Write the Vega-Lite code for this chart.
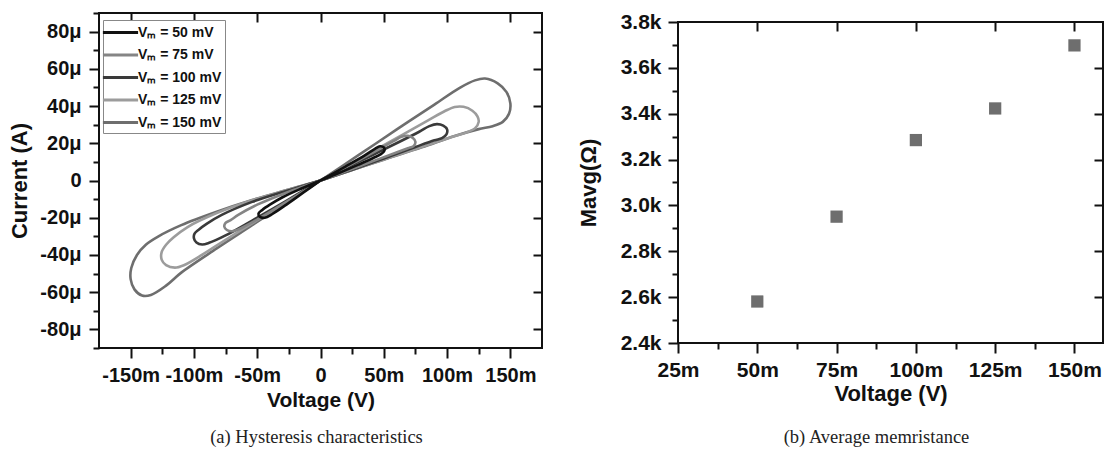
{
  "$schema": "https://vega.github.io/schema/vega-lite/v6.json",
  "padding": {"left": 7, "top": 10, "right": 4, "bottom": 4},
  "spacing": 32,
  "config": {
    "view": {"stroke": "#111111", "strokeWidth": 2},
    "font": "Liberation Sans",
    "axis": {
      "labelFont": "Liberation Sans", "labelFontWeight": "bold", "labelColor": "#111111",
      "titleFont": "Liberation Sans", "titleFontWeight": "bold", "titleColor": "#111111",
      "tickColor": "#111111", "tickWidth": 2, "grid": false, "domain": false,
      "labelOverlap": false, "labelFlush": false
    }
  },
  "datasets": {
    "loops": [
      {"vm":"150","i":0,"v":0,"c":0},{"vm":"150","i":1,"v":30,"c":13.6},{"vm":"150","i":2,"v":60,"c":27.3},{"vm":"150","i":3,"v":90,"c":40.8},{"vm":"150","i":4,"v":110,"c":49.8},{"vm":"150","i":5,"v":122,"c":53.8},{"vm":"150","i":6,"v":130,"c":54.8},{"vm":"150","i":7,"v":140,"c":52.2},{"vm":"150","i":8,"v":147,"c":47.5},{"vm":"150","i":9,"v":150,"c":41.5},{"vm":"150","i":10,"v":149,"c":36},{"vm":"150","i":11,"v":144,"c":31.5},{"vm":"150","i":12,"v":136,"c":29.2},{"vm":"150","i":13,"v":125,"c":27.6},{"vm":"150","i":14,"v":106,"c":23.9},{"vm":"150","i":15,"v":80,"c":17.8},{"vm":"150","i":16,"v":50,"c":11.2},{"vm":"150","i":17,"v":25,"c":5.6},{"vm":"150","i":18,"v":0,"c":0},
      {"vm":"150","i":19,"v":-25,"c":-4.8},{"vm":"150","i":20,"v":-54,"c":-10.5},{"vm":"150","i":21,"v":-82,"c":-16.8},{"vm":"150","i":22,"v":-110,"c":-24},{"vm":"150","i":23,"v":-128,"c":-30},{"vm":"150","i":24,"v":-138,"c":-34.5},{"vm":"150","i":25,"v":-145,"c":-40},{"vm":"150","i":26,"v":-149.5,"c":-47},{"vm":"150","i":27,"v":-150,"c":-53},{"vm":"150","i":28,"v":-147,"c":-58.5},{"vm":"150","i":29,"v":-141,"c":-61.8},{"vm":"150","i":30,"v":-134,"c":-61.5},{"vm":"150","i":31,"v":-122,"c":-56.5},{"vm":"150","i":32,"v":-110,"c":-49.5},{"vm":"150","i":33,"v":-82,"c":-36.5},{"vm":"150","i":34,"v":-54,"c":-24},{"vm":"150","i":35,"v":-26,"c":-11.5},{"vm":"150","i":36,"v":0,"c":0},

      {"vm":"125","i":0,"v":0,"c":0},{"vm":"125","i":1,"v":30,"c":11.4},{"vm":"125","i":2,"v":60,"c":22.8},{"vm":"125","i":3,"v":85,"c":32.3},{"vm":"125","i":4,"v":98,"c":37.2},{"vm":"125","i":5,"v":106,"c":39.5},{"vm":"125","i":6,"v":113,"c":39.6},{"vm":"125","i":7,"v":120,"c":37.5},{"vm":"125","i":8,"v":124,"c":34.5},{"vm":"125","i":9,"v":125,"c":31.5},{"vm":"125","i":10,"v":122,"c":28},{"vm":"125","i":11,"v":116,"c":26},{"vm":"125","i":12,"v":105,"c":23.6},{"vm":"125","i":13,"v":80,"c":18},{"vm":"125","i":14,"v":50,"c":11.3},{"vm":"125","i":15,"v":25,"c":5.6},{"vm":"125","i":16,"v":0,"c":0},
      {"vm":"125","i":17,"v":-25,"c":-4.9},{"vm":"125","i":18,"v":-54,"c":-10.6},{"vm":"125","i":19,"v":-82,"c":-17.5},{"vm":"125","i":20,"v":-105,"c":-25},{"vm":"125","i":21,"v":-116,"c":-30.5},{"vm":"125","i":22,"v":-122,"c":-34.5},{"vm":"125","i":23,"v":-125.5,"c":-38.5},{"vm":"125","i":24,"v":-125.5,"c":-42.5},{"vm":"125","i":25,"v":-122,"c":-45.5},{"vm":"125","i":26,"v":-115,"c":-46.8},{"vm":"125","i":27,"v":-108,"c":-45.5},{"vm":"125","i":28,"v":-95,"c":-40.5},{"vm":"125","i":29,"v":-80,"c":-34},{"vm":"125","i":30,"v":-54,"c":-23},{"vm":"125","i":31,"v":-26,"c":-11},{"vm":"125","i":32,"v":0,"c":0},

      {"vm":"100","i":0,"v":0,"c":0},{"vm":"100","i":1,"v":30,"c":10},{"vm":"100","i":2,"v":60,"c":20},{"vm":"100","i":3,"v":78,"c":26.2},{"vm":"100","i":4,"v":86,"c":29.2},{"vm":"100","i":5,"v":92,"c":30.3},{"vm":"100","i":6,"v":97,"c":29.5},{"vm":"100","i":7,"v":100,"c":27.5},{"vm":"100","i":8,"v":99.5,"c":24.8},{"vm":"100","i":9,"v":96,"c":22.8},{"vm":"100","i":10,"v":90,"c":21.6},{"vm":"100","i":11,"v":75,"c":18},{"vm":"100","i":12,"v":50,"c":11.8},{"vm":"100","i":13,"v":25,"c":5.8},{"vm":"100","i":14,"v":0,"c":0},
      {"vm":"100","i":15,"v":-25,"c":-5.2},{"vm":"100","i":16,"v":-54,"c":-11.5},{"vm":"100","i":17,"v":-78,"c":-18.5},{"vm":"100","i":18,"v":-90,"c":-23.3},{"vm":"100","i":19,"v":-96,"c":-26.3},{"vm":"100","i":20,"v":-99.5,"c":-28.5},{"vm":"100","i":21,"v":-100,"c":-31},{"vm":"100","i":22,"v":-98,"c":-33.3},{"vm":"100","i":23,"v":-93.5,"c":-34.4},{"vm":"100","i":24,"v":-88,"c":-33.5},{"vm":"100","i":25,"v":-75,"c":-29.5},{"vm":"100","i":26,"v":-54,"c":-21.5},{"vm":"100","i":27,"v":-26,"c":-10.5},{"vm":"100","i":28,"v":0,"c":0},

      {"vm":"75","i":0,"v":0,"c":0},{"vm":"75","i":1,"v":25,"c":9},{"vm":"75","i":2,"v":45,"c":16.3},{"vm":"75","i":3,"v":58,"c":21.3},{"vm":"75","i":4,"v":64,"c":23.5},{"vm":"75","i":5,"v":69,"c":24},{"vm":"75","i":6,"v":73,"c":22.8},{"vm":"75","i":7,"v":75,"c":20.8},{"vm":"75","i":8,"v":73.5,"c":18.5},{"vm":"75","i":9,"v":69,"c":17.3},{"vm":"75","i":10,"v":60,"c":15},{"vm":"75","i":11,"v":40,"c":10},{"vm":"75","i":12,"v":20,"c":4.9},{"vm":"75","i":13,"v":0,"c":0},
      {"vm":"75","i":14,"v":-25,"c":-6},{"vm":"75","i":15,"v":-50,"c":-13},{"vm":"75","i":16,"v":-65,"c":-18.5},{"vm":"75","i":17,"v":-71,"c":-21.3},{"vm":"75","i":18,"v":-75,"c":-22.8},{"vm":"75","i":19,"v":-76,"c":-24.8},{"vm":"75","i":20,"v":-74,"c":-26.6},{"vm":"75","i":21,"v":-70,"c":-27.3},{"vm":"75","i":22,"v":-65,"c":-26.3},{"vm":"75","i":23,"v":-50,"c":-21},{"vm":"75","i":24,"v":-25,"c":-10.7},{"vm":"75","i":25,"v":0,"c":0},

      {"vm":"50","i":0,"v":0,"c":0},{"vm":"50","i":1,"v":20,"c":7.6},{"vm":"50","i":2,"v":35,"c":13.5},{"vm":"50","i":3,"v":43,"c":17},{"vm":"50","i":4,"v":47,"c":18.4},{"vm":"50","i":5,"v":50,"c":17.8},{"vm":"50","i":6,"v":50.5,"c":16},{"vm":"50","i":7,"v":48,"c":14.3},{"vm":"50","i":8,"v":42,"c":12.2},{"vm":"50","i":9,"v":30,"c":8.5},{"vm":"50","i":10,"v":15,"c":4.1},{"vm":"50","i":11,"v":0,"c":0},
      {"vm":"50","i":12,"v":-15,"c":-4.3},{"vm":"50","i":13,"v":-30,"c":-9},{"vm":"50","i":14,"v":-40,"c":-13},{"vm":"50","i":15,"v":-46,"c":-15.8},{"vm":"50","i":16,"v":-49,"c":-17.8},{"vm":"50","i":17,"v":-48,"c":-19.5},{"vm":"50","i":18,"v":-44,"c":-20},{"vm":"50","i":19,"v":-38,"c":-18},{"vm":"50","i":20,"v":-25,"c":-12},{"vm":"50","i":21,"v":-12,"c":-5.7},{"vm":"50","i":22,"v":0,"c":0}
    ],
    "mem": [
      {"v": 50, "m": 2.581},
      {"v": 75, "m": 2.951},
      {"v": 100, "m": 3.285},
      {"v": 125, "m": 3.423},
      {"v": 150, "m": 3.698}
    ],
    "blank": [{"k": 0}]
  },
  "hconcat": [
    {
      "width": 443,
      "height": 335,
      "data": {"name": "loops"},
      "title": {"text": "(a) Hysteresis characteristics", "orient": "bottom", "frame": "group", "anchor": "middle", "dx": -4, "font": "Liberation Serif", "fontSize": 18.5, "fontWeight": "normal", "color": "#222222", "offset": 18},
      "layer": [
        {
          "mark": {"type": "line", "interpolate": "catmull-rom", "strokeWidth": 2.6},
          "encoding": {
            "x": {"field": "v", "type": "quantitative", "scale": {"domain": [-175, 175], "nice": false, "zero": false},
              "axis": {"orient": "bottom", "values": [-150, -100, -50, 0, 50, 100, 150], "labelExpr": "datum.value == 0 ? '0' : datum.value + 'm'", "tickSize": 10, "labelPadding": 7, "labelFontSize": 20, "title": "Voltage (V)", "titleFontSize": 21, "titlePadding": 4}},
            "y": {"field": "c", "type": "quantitative", "scale": {"domain": [-90, 90], "nice": false, "zero": false},
              "axis": {"orient": "left", "values": [-80, -60, -40, -20, 0, 20, 40, 60, 80], "labelExpr": "datum.value == 0 ? '0' : datum.value + 'μ'", "tickSize": 10, "labelPadding": 8, "labelFontSize": 20, "title": "Current (A)", "titleFontSize": 22, "titlePadding": 8}},
            "color": {"field": "vm", "type": "nominal",
              "scale": {"domain": ["50", "75", "100", "125", "150"], "range": ["#111111", "#858585", "#3a3a3a", "#9c9c9c", "#6e6e6e"]},
              "legend": {"orient": "none", "legendX": 4, "legendY": 7, "title": null, "symbolType": "M-2.2,0H2.2", "symbolSize": 256, "symbolStrokeWidth": 3, "symbolOffset": 5, "labelFont": "Liberation Sans", "labelFontWeight": "bold", "labelFontSize": 14, "labelColor": "#111111", "labelExpr": "'Vₘ = ' + datum.label + ' mV'", "strokeColor": "#888888", "fillColor": "white", "padding": 3, "labelOffset": 8, "rowPadding": 5.5}},
            "order": {"field": "i", "type": "quantitative"}
          }
        },
        {
          "mark": {"type": "point", "opacity": 0},
          "encoding": {
            "x": {"field": "v", "type": "quantitative", "axis": {"orient": "bottom", "values": [-125, -75, -25, 25, 75, 125], "tickSize": 6, "labels": false, "title": null}},
            "y": {"field": "c", "type": "quantitative", "axis": {"orient": "left", "values": [-90, -70, -50, -30, -10, 10, 30, 50, 70, 90], "tickSize": 6, "labels": false, "title": null}}
          }
        },
        {
          "mark": {"type": "point", "opacity": 0},
          "encoding": {
            "x": {"field": "v", "type": "quantitative", "axis": {"orient": "top", "offset": -9, "values": [-150, -100, -50, 0, 50, 100, 150], "tickSize": 9, "labels": false, "title": null}},
            "y": {"field": "c", "type": "quantitative", "axis": {"orient": "right", "offset": -9, "values": [-80, -60, -40, -20, 0, 20, 40, 60, 80], "tickSize": 9, "labels": false, "title": null}}
          }
        }
      ],
      "resolve": {"axis": {"x": "independent", "y": "independent"}}
    },
    {
      "spacing": -7,
      "vconcat": [
        {
          "width": 425,
          "height": 1,
          "view": {"stroke": null},
          "data": {"name": "blank"},
          "mark": {"type": "point", "opacity": 0}
        },
        {
          "width": 425,
          "height": 321,
          "data": {"name": "mem"},
          "title": {"text": "(b) Average memristance", "orient": "bottom", "frame": "group", "anchor": "middle", "dx": -14, "font": "Liberation Serif", "fontSize": 18.5, "fontWeight": "normal", "color": "#222222", "offset": 24},
          "layer": [
            {
              "mark": {"type": "square", "size": 150, "filled": true, "color": "#6e6e6e", "opacity": 1},
              "encoding": {
                "x": {"field": "v", "type": "quantitative", "scale": {"domain": [25, 159], "nice": false, "zero": false},
                  "axis": {"orient": "bottom", "values": [25, 50, 75, 100, 125, 150], "labelExpr": "datum.value + 'm'", "tickSize": 10, "labelPadding": 6, "labelFontSize": 21, "title": "Voltage (V)", "titleFontSize": 22, "titlePadding": 3}},
                "y": {"field": "m", "type": "quantitative", "scale": {"domain": [2.4, 3.8], "nice": false, "zero": false},
                  "axis": {"orient": "left", "values": [2.4, 2.6, 2.8, 3.0, 3.2, 3.4, 3.6, 3.8], "labelExpr": "format(datum.value, '.1f') + 'k'", "tickSize": 10, "labelPadding": 7, "labelFontSize": 21, "title": "Mavg(Ω)", "titleFontSize": 22, "titlePadding": 20}}
              }
            },
            {
              "mark": {"type": "point", "opacity": 0},
              "encoding": {
                "x": {"field": "v", "type": "quantitative", "axis": {"orient": "bottom", "values": [37.5, 62.5, 87.5, 112.5, 137.5], "tickSize": 6, "labels": false, "title": null}},
                "y": {"field": "m", "type": "quantitative", "axis": {"orient": "left", "values": [2.5, 2.7, 2.9, 3.1, 3.3, 3.5, 3.7], "tickSize": 6, "labels": false, "title": null}}
              }
            },
            {
              "mark": {"type": "point", "opacity": 0},
              "encoding": {
                "x": {"field": "v", "type": "quantitative", "axis": {"orient": "top", "offset": -9, "values": [50, 75, 100, 125, 150], "tickSize": 9, "labels": false, "title": null}},
                "y": {"field": "m", "type": "quantitative", "axis": {"orient": "right", "offset": -9, "values": [2.6, 2.8, 3.0, 3.2, 3.4, 3.6], "tickSize": 9, "labels": false, "title": null}}
              }
            }
          ],
          "resolve": {"axis": {"x": "independent", "y": "independent"}}
        }
      ]
    }
  ]
}
